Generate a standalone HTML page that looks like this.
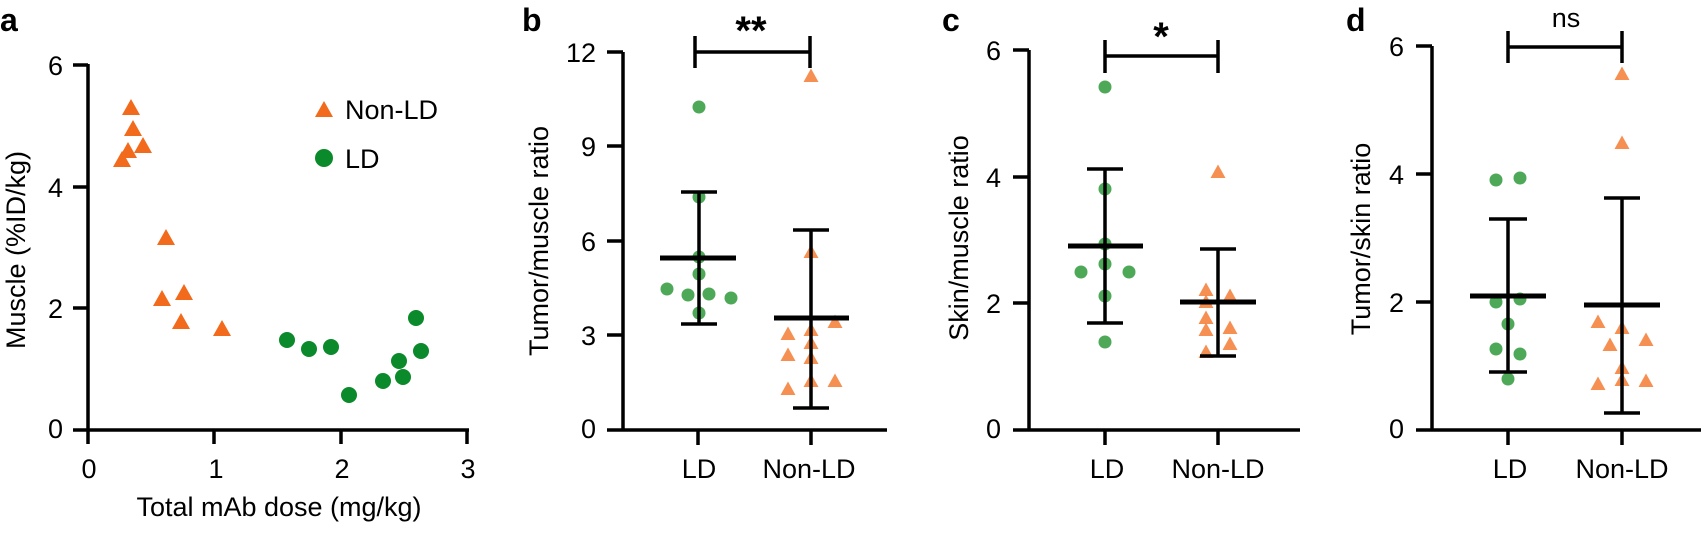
<!DOCTYPE html>
<html><head><style>body{margin:0;background:#fff}svg{display:block}text{font-family:"Liberation Sans",Arial,sans-serif;fill:#000}</style></head>
<body>
<svg width="1701" height="544" viewBox="0 0 1701 544" xmlns="http://www.w3.org/2000/svg">
<defs>
<path id="ta" d="M0,-9 L9,7 L-9,7 Z"/>
<path id="tb" d="M0,-7.5 L7.5,6 L-7.5,6 Z"/>
</defs>
<g stroke="#000" stroke-width="3.5" fill="none" stroke-linecap="butt">
<path d="M88,64 V430 M73,430 H469 M73,65 H88 M73,187 H88 M73,308 H88 M88,430 V444 M214,430 V444 M341,430 V444 M467,430 V444"/>
<path d="M623,52 V430 M607,430 H887 M607,52 H623 M607,146 H623 M607,241 H623 M607,335 H623 M698,430 V445 M811,430 V445"/>
<path d="M695,36 V68 M695,52 H810 M810,36 V68"/>
<path d="M1029,50 V430 M1013,430 H1300 M1013,50 H1029 M1013,177 H1029 M1013,303 H1029 M1105,430 V445 M1218,430 V445"/>
<path d="M1105,40 V73 M1105,56 H1218 M1218,40 V73"/>
<path d="M1432,46 V430 M1416,430 H1701 M1416,46 H1432 M1416,174 H1432 M1416,302 H1432 M1508,430 V445 M1622,430 V445"/>
<path d="M1508,31 V63 M1508,47 H1622 M1622,31 V63"/>
</g>
<g font-size="27">
<text x="0" y="31" font-size="32" font-weight="bold">a</text>
<text x="522" y="31" font-size="32" font-weight="bold">b</text>
<text x="942" y="31" font-size="32" font-weight="bold">c</text>
<text x="1346" y="31" font-size="32" font-weight="bold">d</text>
<g text-anchor="end">
<text x="63" y="75">6</text><text x="63" y="197">4</text><text x="63" y="318">2</text><text x="63" y="438">0</text>
<text x="596" y="62">12</text><text x="596" y="156">9</text><text x="596" y="251">6</text><text x="596" y="345">3</text><text x="596" y="438">0</text>
<text x="1001" y="60">6</text><text x="1001" y="187">4</text><text x="1001" y="313">2</text><text x="1001" y="438">0</text>
<text x="1404" y="56">6</text><text x="1404" y="184">4</text><text x="1404" y="312">2</text><text x="1404" y="438">0</text>
</g>
<g text-anchor="middle">
<text x="89" y="478">0</text><text x="216" y="478">1</text><text x="342" y="478">2</text><text x="468" y="478">3</text>
<text x="279" y="516">Total mAb dose (mg/kg)</text>
<text x="699" y="478">LD</text><text x="809" y="478">Non-LD</text>
<text x="1107" y="478">LD</text><text x="1218" y="478">Non-LD</text>
<text x="1510" y="478">LD</text><text x="1622" y="478">Non-LD</text>
<text x="751" y="44" font-size="40" font-weight="bold">**</text>
<text x="1161" y="50" font-size="40" font-weight="bold">*</text>
<text x="1566" y="27">ns</text>
<text transform="translate(25,250) rotate(-90)">Muscle (%ID/kg)</text>
<text transform="translate(548,241) rotate(-90)">Tumor/muscle ratio</text>
<text transform="translate(968,238) rotate(-90)">Skin/muscle ratio</text>
<text transform="translate(1370,239) rotate(-90)">Tumor/skin ratio</text>
</g>
<text x="345" y="119">Non-LD</text>
<text x="345" y="168">LD</text>
</g>
<g fill="#f26a1b">
<use href="#ta" x="324" y="110"/>
<use href="#ta" x="131" y="108"/><use href="#ta" x="133" y="129"/><use href="#ta" x="128" y="151"/><use href="#ta" x="143" y="146"/><use href="#ta" x="122" y="160"/>
<use href="#ta" x="166" y="238"/><use href="#ta" x="162" y="299"/><use href="#ta" x="184" y="293"/><use href="#ta" x="181" y="322"/><use href="#ta" x="222" y="329"/>
</g>
<g fill="#0a8a2a">
<circle cx="324" cy="158" r="9"/>
<circle cx="287" cy="340" r="8"/><circle cx="309" cy="349" r="8"/><circle cx="331" cy="347" r="8"/><circle cx="349" cy="395" r="8"/><circle cx="383" cy="381" r="8"/><circle cx="403" cy="377" r="8"/><circle cx="399" cy="361" r="8"/><circle cx="416" cy="318" r="8"/><circle cx="421" cy="351" r="8"/>
</g>
<g fill="#2e9a3a" fill-opacity="0.85">
<circle cx="699" cy="107" r="6.5"/><circle cx="699" cy="197" r="6.5"/><circle cx="699" cy="257" r="6.5"/><circle cx="699" cy="274" r="6.5"/><circle cx="667" cy="289" r="6.5"/><circle cx="688" cy="295" r="6.5"/><circle cx="709" cy="294" r="6.5"/><circle cx="731" cy="298" r="6.5"/><circle cx="699" cy="313" r="6.5"/>
<circle cx="1105" cy="87" r="6.5"/><circle cx="1105" cy="189" r="6.5"/><circle cx="1105" cy="244" r="6.5"/><circle cx="1105" cy="264" r="6.5"/><circle cx="1081" cy="272" r="6.5"/><circle cx="1129" cy="272" r="6.5"/><circle cx="1105" cy="296" r="6.5"/><circle cx="1105" cy="342" r="6.5"/>
<circle cx="1496" cy="180" r="6.5"/><circle cx="1520" cy="178" r="6.5"/><circle cx="1496" cy="302" r="6.5"/><circle cx="1520" cy="299" r="6.5"/><circle cx="1508" cy="324" r="6.5"/><circle cx="1496" cy="349" r="6.5"/><circle cx="1520" cy="354" r="6.5"/><circle cx="1508" cy="379" r="6.5"/>
</g>
<g fill="#f5843f" fill-opacity="0.9">
<use href="#tb" x="811" y="76"/><use href="#tb" x="811" y="252"/><use href="#tb" x="788" y="334"/><use href="#tb" x="811" y="330"/><use href="#tb" x="835" y="322"/><use href="#tb" x="811" y="343"/><use href="#tb" x="788" y="355"/><use href="#tb" x="811" y="358"/><use href="#tb" x="811" y="381"/><use href="#tb" x="835" y="381"/><use href="#tb" x="788" y="389"/>
<use href="#tb" x="1218" y="172"/><use href="#tb" x="1206" y="290"/><use href="#tb" x="1230" y="296"/><use href="#tb" x="1206" y="302"/><use href="#tb" x="1206" y="318"/><use href="#tb" x="1206" y="330"/><use href="#tb" x="1230" y="328"/><use href="#tb" x="1230" y="344"/><use href="#tb" x="1206" y="352"/>
<use href="#tb" x="1622" y="74"/><use href="#tb" x="1622" y="143"/><use href="#tb" x="1598" y="322"/><use href="#tb" x="1622" y="328"/><use href="#tb" x="1646" y="340"/><use href="#tb" x="1610" y="345"/><use href="#tb" x="1622" y="368"/><use href="#tb" x="1622" y="380"/><use href="#tb" x="1598" y="384"/><use href="#tb" x="1646" y="381"/>
</g>
<g stroke="#000" stroke-width="3.5" fill="none">
<path d="M699,192 V324 M681,192 H717 M681,324 H717"/>
<path d="M811,230 V408 M793,230 H829 M793,408 H829"/>
<path d="M1105,169 V323 M1087,169 H1123 M1087,323 H1123"/>
<path d="M1218,249 V356 M1200,249 H1236 M1200,356 H1236"/>
<path d="M1508,219 V372 M1489,219 H1527 M1489,372 H1527"/>
<path d="M1622,198 V413 M1604,198 H1640 M1604,413 H1640"/>
</g>
<g stroke="#000" stroke-width="5" fill="none">
<path d="M660,258 H736 M774,318 H849 M1068,246 H1143 M1180,302 H1256 M1470,296 H1546 M1584,305 H1660"/>
</g>
</svg>
</body></html>
